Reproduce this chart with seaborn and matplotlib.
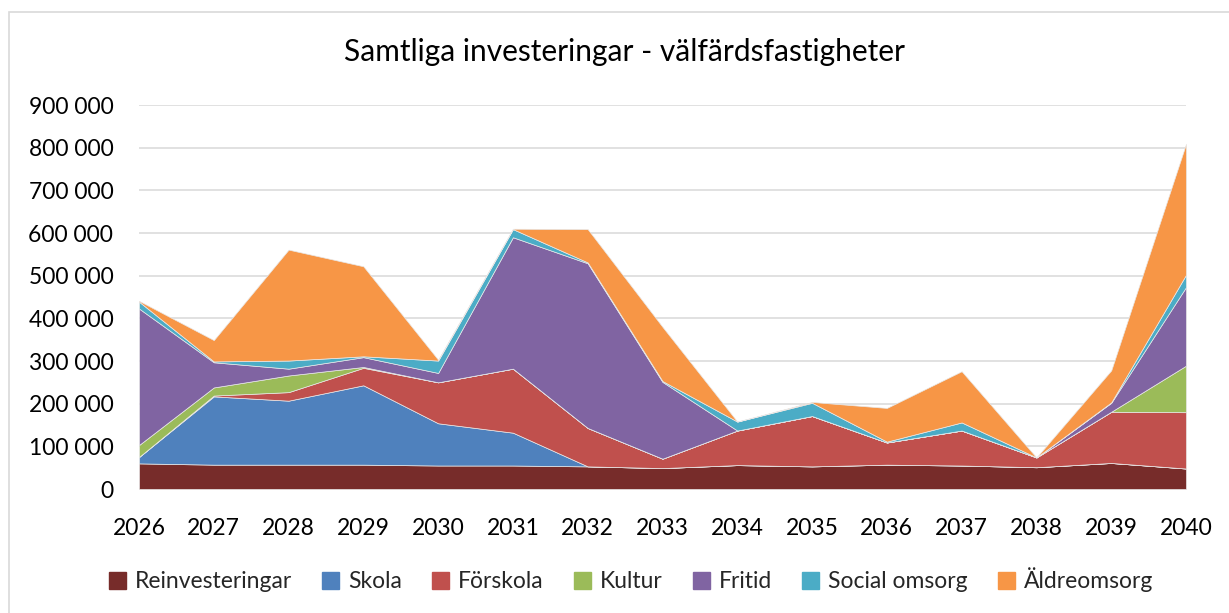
import matplotlib
matplotlib.use("Agg")
import matplotlib.pyplot as plt
import matplotlib.patches as mpatches
from matplotlib.ticker import FuncFormatter
import seaborn as sns

years = [2026, 2027, 2028, 2029, 2030, 2031, 2032, 2033, 2034, 2035, 2036, 2037, 2038, 2039, 2040]
reinvesteringar = [60000, 57000, 57000, 57000, 55000, 55000, 53000, 49000, 56000, 53000, 57000, 55000, 51000, 61000, 48000]
skola = [15000, 160000, 150000, 186000, 99000, 77000, 0, 0, 0, 0, 0, 0, 0, 0, 0]
forskola = [0, 2000, 20000, 41000, 96000, 150000, 90000, 22000, 81000, 118000, 52000, 82000, 23000, 120000, 132000]
kultur = [28000, 19000, 39000, 2000, 0, 0, 0, 0, 0, 0, 0, 0, 0, 0, 109000]
fritid = [320000, 59000, 16000, 23000, 22000, 308000, 386000, 180000, 0, 0, 0, 0, 0, 21000, 184000]
social = [16000, 2000, 19000, 2000, 29000, 19000, 2000, 2000, 21000, 31000, 2000, 19000, 0, 1000, 29000]
aldre = [2000, 50000, 260000, 211000, 2000, 1000, 78000, 127000, 0, 2000, 79000, 120000, 0, 75000, 307000]

labels = ["Reinvesteringar", "Skola", "Förskola", "Kultur", "Fritid", "Social omsorg", "Äldreomsorg"]
colors = ["#772C2A", "#4F81BD", "#C0504D", "#9BBB59", "#8064A2", "#4BACC6", "#F79646"]
title = "Samtliga investeringar - välfärdsfastigheter"

sns.set_theme(style="white")
plt.rcParams["font.family"] = ["Lato", "DejaVu Sans"]

fig = plt.figure(figsize=(12.29, 6.13), dpi=100)
ax = fig.add_axes([139/1229, 1-489/613, (1186-139)/1229, (489-105)/613])

series = [reinvesteringar, skola, forskola, kultur, fritid, social, aldre]
ax.stackplot(years, *series, colors=colors, labels=labels,
             edgecolor="#e8e8e8", linewidth=0.5, zorder=3)

ax.set_xlim(years[0], years[-1])
ax.set_ylim(0, 900000)
ax.set_yticks(range(0, 900001, 100000))
ax.yaxis.set_major_formatter(FuncFormatter(lambda v, p: f"{int(v):,}".replace(",", " ")))
ax.set_xticks(years)
ax.grid(axis="y", color="#D9D9D9", linewidth=1.1, zorder=0)
ax.grid(axis="x", visible=False)
for s in ax.spines.values():
    s.set_visible(False)
ax.tick_params(axis="y", length=0, pad=18.5, labelsize=16.5, colors="black")
ax.tick_params(axis="x", length=0, pad=21, labelsize=16.5, colors="black")

fig.text(625/1229, 1-52/613, title, ha="center", va="center", fontsize=21.5, color="black")

handles = [mpatches.Patch(color=c, label=l) for c, l in zip(colors, labels)]
fig.legend(handles=handles, loc="center", bbox_to_anchor=(631/1229, 1-580/613), ncol=7,
           frameon=False, fontsize=16.5, handlelength=0.75, handleheight=0.75,
           handletextpad=0.4, columnspacing=1.3)

border = mpatches.Rectangle((9/1229, -0.05), 1.1, 1-12/613+0.05, transform=fig.transFigure,
                            fill=False, edgecolor="#D9D9D9", linewidth=1.2)
fig.patches.append(border)

fig.savefig("out.png", dpi=100, facecolor="white")
